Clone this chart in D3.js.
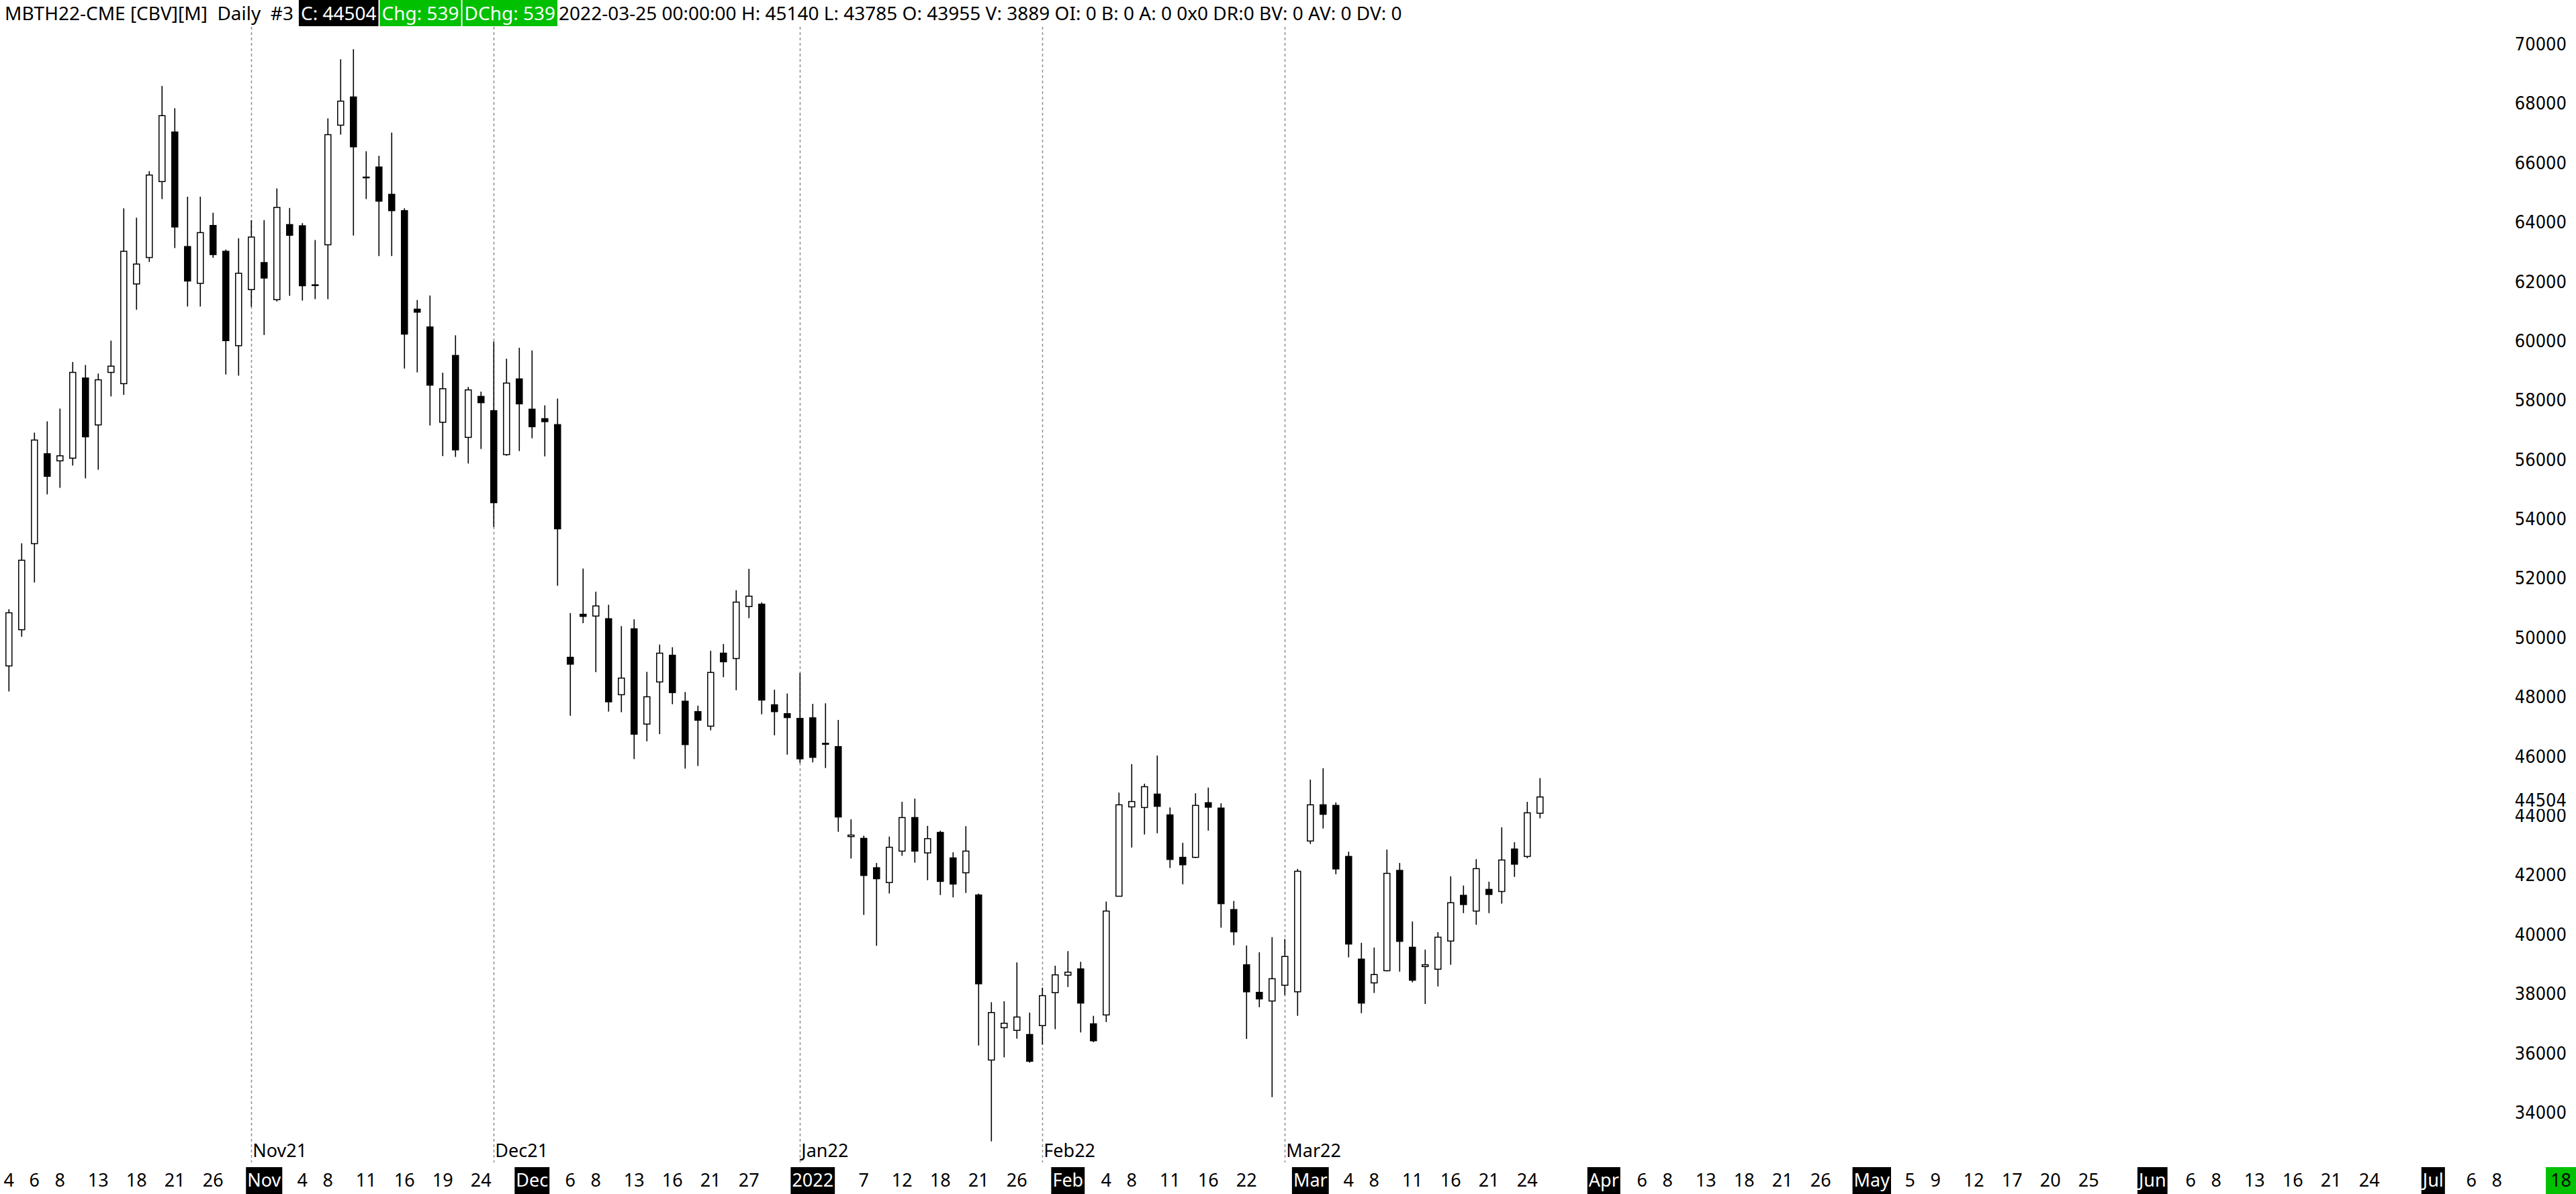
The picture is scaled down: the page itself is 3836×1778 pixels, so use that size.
<!DOCTYPE html>
<html lang="en">
<head>
  <meta charset="utf-8">
  <title>MBTH22-CME Daily</title>
  <script src="https://d3js.org/d3.v7.min.js"></script>
  <style>
    body { margin: 0; background: #fff; }
    svg { display: block; background: #fff; }
    .hdr text { font-family: "Noto Sans", "Open Sans", sans-serif; font-size: 28px; white-space: pre; }
    .xlab text { font-family: "Noto Sans", "Open Sans", sans-serif; font-size: 27px; }
    .ylab text, .lastlab text { font-family: "DejaVu Sans Condensed", "DejaVu Sans", sans-serif; font-stretch: condensed; font-size: 27px; }
  </style>
</head>
<body>
<svg id="chart" width="3836" height="1778"></svg>
<script>
  // ---- data ----
  const dates = [
    "2021-10-04","2021-10-05","2021-10-06","2021-10-07","2021-10-08","2021-10-11","2021-10-12","2021-10-13","2021-10-14","2021-10-15",
    "2021-10-18","2021-10-19","2021-10-20","2021-10-21","2021-10-22","2021-10-25","2021-10-26","2021-10-27","2021-10-28","2021-10-29",
    "2021-11-01","2021-11-02","2021-11-03","2021-11-04","2021-11-05","2021-11-08","2021-11-09","2021-11-10","2021-11-11","2021-11-12",
    "2021-11-15","2021-11-16","2021-11-17","2021-11-18","2021-11-19","2021-11-22","2021-11-23","2021-11-24","2021-11-26","2021-11-29",
    "2021-11-30","2021-12-01","2021-12-02","2021-12-03","2021-12-06","2021-12-07","2021-12-08","2021-12-09","2021-12-10","2021-12-13",
    "2021-12-14","2021-12-15","2021-12-16","2021-12-17","2021-12-20","2021-12-21","2021-12-22","2021-12-23","2021-12-27","2021-12-28",
    "2021-12-29","2021-12-30","2021-12-31","2022-01-03","2022-01-04","2022-01-05","2022-01-06","2022-01-07","2022-01-10","2022-01-11",
    "2022-01-12","2022-01-13","2022-01-14","2022-01-18","2022-01-19","2022-01-20","2022-01-21","2022-01-24","2022-01-25","2022-01-26",
    "2022-01-27","2022-01-28","2022-01-31","2022-02-01","2022-02-02","2022-02-03","2022-02-04","2022-02-07","2022-02-08","2022-02-09",
    "2022-02-10","2022-02-11","2022-02-14","2022-02-15","2022-02-16","2022-02-17","2022-02-18","2022-02-22","2022-02-23","2022-02-24",
    "2022-02-25","2022-02-28","2022-03-01","2022-03-02","2022-03-03","2022-03-04","2022-03-07","2022-03-08","2022-03-09","2022-03-10",
    "2022-03-11","2022-03-14","2022-03-15","2022-03-16","2022-03-17","2022-03-18","2022-03-21","2022-03-22","2022-03-23","2022-03-24",
    "2022-03-25"
  ];

  const open = [
    48920,50140,53040,56070,55830,55920,58620,57040,58810,58430,
    61790,62680,65240,66910,63050,61810,63760,62890,59710,61600,
    62510,61260,63790,63750,61760,63110,67140,68090,65390,65730,
    64810,64260,60940,60340,57130,59380,56620,58000,57520,56040,
    58590,57570,57250,57050,49210,50660,50600,50510,47950,50170,
    46960,48380,49280,47730,47380,46890,49350,49170,50920,51000,
    47610,47310,47150,47170,46310,46200,43170,43110,42120,41620,
    42680,43810,42620,43310,42450,41950,41200,35640,36730,36640,
    36500,36800,37910,38500,38710,36860,37160,41160,44170,44150,
    44600,43900,42470,42470,44310,44130,40710,38850,37920,37630,
    38160,37940,43020,44240,44220,42500,39040,38240,38650,42030,
    39440,38790,38700,39650,41190,40660,41390,41320,42750,42500,
    43955
  ];
  const high = [
    50830,53050,56780,57160,57590,59160,59060,58770,59880,64340,
    64020,65590,68460,67710,64730,64730,64190,62950,63330,63940,
    63940,65010,64350,63840,63270,67370,69360,69700,66260,66110,
    66890,64340,61250,61400,58800,60060,58320,58160,59850,59270,
    59640,59550,57700,57930,50700,52200,51420,50980,50260,50490,
    48720,49640,49550,48040,47580,49430,49660,51470,52190,51060,
    48120,47990,48680,47640,47660,47100,43750,43200,42280,43170,
    44340,44450,43530,43370,42640,43520,41250,37590,37620,38930,
    37240,38080,38820,39310,38950,37130,40980,44650,45610,44950,
    45900,44150,42960,44630,44820,44290,41000,39500,39270,39780,
    39720,42080,45090,45470,44320,42660,39590,39430,42730,42280,
    40310,39360,39950,41830,41520,42410,41650,43480,42980,44340,
    45140
  ];
  const low = [
    48060,49900,51730,54700,54920,55670,55240,55530,58000,58050,
    60920,62530,64650,63000,61030,61030,62670,58740,58700,61020,
    60070,61200,61390,61230,61280,61280,66820,63420,64650,62730,
    62730,58940,58810,57020,55990,55960,55740,56230,53600,56000,
    56160,56590,55980,51620,47240,50360,48710,47380,47360,45780,
    46380,46620,47630,45460,45550,46750,48540,48100,50530,47290,
    46580,45930,45650,45670,45480,43330,42430,40530,39490,41250,
    42520,42290,41700,41200,41120,41270,36130,32900,35730,36360,
    35550,36160,36680,38100,36570,36240,36920,41150,42800,43240,
    43280,42110,41560,42450,43370,40100,39510,36350,37420,34390,
    37830,37130,42920,43440,41900,39100,37220,37900,38630,38620,
    38260,37530,38120,38850,40590,40200,40590,40910,41810,42440,
    43785
  ];
  const close = [
    50710,52480,56530,55310,56000,58810,56640,58560,59020,62890,
    62460,65460,67460,63710,61890,63520,62780,59880,62150,63370,
    61990,64370,63430,61730,61740,66820,67950,66410,65370,64580,
    64260,60100,60840,58380,58260,56200,58220,57790,54420,58450,
    57750,56980,57150,53540,48980,50590,50940,47710,48510,46620,
    47880,49350,48020,46270,47090,48700,49060,51070,51270,47770,
    47380,47180,45790,45840,46280,43830,43220,41860,41750,42810,
    43810,42680,43100,41660,41570,42680,38210,37240,36880,37090,
    35600,37810,38510,38600,37560,36290,40660,44240,44350,44850,
    44190,42400,42220,44220,44160,40910,39960,37940,37700,38380,
    39130,42000,44240,43920,42080,39550,37560,38520,41930,39640,
    38330,38850,39780,40940,40880,42090,41220,42380,42240,43970,
    44504
  ];

  // price scale labels and last price
  const yTicks = d3.range(34000, 70001, 2000);
  const lastPrice = 44504;

  // axis runs on into the future, weekdays only, up to this day
  const axisEnd = "2022-07-18";

  // contract roll lines (expiry of the previous contract)
  const rollDates = ["2021-10-29", "2021-11-26", "2021-12-31", "2022-01-28", "2022-02-25"];
  const rollLabels = ["Nov21", "Dec21", "Jan22", "Feb22", "Mar22"];

  // bottom time labels
  const xTickDates = [
    "2021-10-04","2021-10-06","2021-10-08","2021-10-13","2021-10-18","2021-10-21","2021-10-26",
    "2021-11-01","2021-11-04","2021-11-08","2021-11-11","2021-11-16","2021-11-19","2021-11-24",
    "2021-12-01","2021-12-06","2021-12-08","2021-12-13","2021-12-16","2021-12-21","2021-12-27",
    "2022-01-03","2022-01-07","2022-01-12","2022-01-18","2022-01-21","2022-01-26",
    "2022-02-01","2022-02-04","2022-02-08","2022-02-11","2022-02-16","2022-02-22",
    "2022-03-01","2022-03-04","2022-03-08","2022-03-11","2022-03-16","2022-03-21","2022-03-24",
    "2022-04-01","2022-04-06","2022-04-08","2022-04-13","2022-04-18","2022-04-21","2022-04-26",
    "2022-05-02","2022-05-05","2022-05-09","2022-05-12","2022-05-17","2022-05-20","2022-05-25",
    "2022-06-01","2022-06-06","2022-06-08","2022-06-13","2022-06-16","2022-06-21","2022-06-24",
    "2022-07-01","2022-07-06","2022-07-08"
  ];
  const xTickText = [
    "4","6","8","13","18","21","26",
    "Nov","4","8","11","16","19","24",
    "Dec","6","8","13","16","21","27",
    "2022","7","12","18","21","26",
    "Feb","4","8","11","16","22",
    "Mar","4","8","11","16","21","24",
    "Apr","6","8","13","18","21","26",
    "May","5","9","12","17","20","25",
    "Jun","6","8","13","16","21","24",
    "Jul","6","8"
  ];
  const cursorDate = "2022-07-18";
  const cursorText = "18";

  const headerItems = [
    "MBTH22-CME [CBV][M]  Daily  #3",
    "C: 44504",
    "Chg: 539",
    "DChg: 539",
    "2022-03-25 00:00:00 H: 45140 L: 43785 O: 43955 V: 3889 OI: 0 B: 0 A: 0 0x0 DR:0 BV: 0 AV: 0 DV: 0"
  ];

  // ---- layout ----
  const W = 3836, H = 1778;
  const green = "#00c000";
  const svg = d3.select("#chart");

  const parse = d3.timeParse("%Y-%m-%d");
  const fmt = d3.timeFormat("%Y-%m-%d");

  let futureDays = d3.timeDay
      .range(d3.timeDay.offset(parse(dates[dates.length - 1]), 1), d3.timeDay.offset(parse(axisEnd), 1))
      .filter(d => d.getDay() !== 0 && d.getDay() !== 6)
      .map(fmt);
  let sessions = dates.concat(futureDays);

  let step = 19.0;
  let x = d3.scalePoint()
      .domain(sessions)
      .range([13.3, 13.3 + step * (sessions.length - 1)]);

  let y = d3.scaleLinear()
      .domain([34000, 70000])
      .range([1651, 60]);

  // contract roll lines
  let rolls = svg.append("g");
  rolls.selectAll("line")
    .data(rollDates)
    .join("line")
    .attr("x1", d => Math.round(x(d)) + 0.5)
    .attr("x2", d => Math.round(x(d)) + 0.5)
    .attr("y1", 40)
    .attr("y2", 1731)
    .style("stroke", "#8c8c8c")
    .style("stroke-width", "1.5px")
    .style("stroke-dasharray", "4,4");

  rolls.selectAll("text")
    .data(rollDates)
    .join("text")
    .attr("x", d => x(d) + 2)
    .attr("y", 1714)
    .attr("dy", "0.35em")
    .style("font-family", "'Noto Sans', 'Open Sans', sans-serif")
    .style("font-size", "27px")
    .style("fill", "#000")
    .text((d, i) => rollLabels[i]);

  // candles
  let candles = dates.map((d, i) => ({ date: d, o: open[i], h: high[i], l: low[i], c: close[i] }));
  let bodyW = 9;

  let cg = svg.append("g");
  cg.selectAll("line")
    .data(candles)
    .join("line")
    .attr("x1", d => x(d.date))
    .attr("x2", d => x(d.date))
    .attr("y1", d => y(d.h))
    .attr("y2", d => y(d.l))
    .style("stroke", "#000")
    .style("stroke-width", "1.6px");

  cg.selectAll("rect")
    .data(candles)
    .join("rect")
    .attr("x", d => x(d.date) - bodyW / 2)
    .attr("y", d => y(Math.max(d.o, d.c)))
    .attr("width", bodyW)
    .attr("height", d => Math.max(1, Math.abs(y(d.o) - y(d.c))))
    .style("fill", d => d.c >= d.o ? "#fff" : "#000")
    .style("stroke", "#000")
    .style("stroke-width", "1.5px");

  // price scale on the right
  let yAxis = d3.axisLeft(y)
      .tickValues(yTicks)
      .tickSize(0)
      .tickPadding(0)
      .tickFormat(d3.format("d"));

  let yg = svg.append("g")
      .attr("class", "ylab")
      .attr("transform", "translate(3822,0)")
      .call(yAxis);
  yg.select(".domain").remove();
  yg.selectAll("text")
    .attr("y", 5)
    .attr("dy", "0.35em")
    .style("fill", "#000");

  // last price tag (sits over the 44000 label, as in the source)
  let lastG = svg.append("g").attr("class", "lastlab");
  lastG.append("rect")
    .attr("x", 3738)
    .attr("y", y(lastPrice) - 10)
    .attr("width", 98)
    .attr("height", 28)
    .style("fill", "#fff");
  lastG.append("text")
    .attr("x", 3822)
    .attr("y", y(lastPrice) + 5)
    .attr("dy", "0.35em")
    .attr("text-anchor", "end")
    .style("fill", "#000")
    .text(lastPrice);

  // bottom time labels
  let xg = svg.append("g").attr("class", "xlab");
  let ticks = xTickDates.map((d, i) => ({ date: d, text: xTickText[i], boxed: isNaN(+xTickText[i]) || xTickText[i] === "2022" }));

  let tg = xg.selectAll("g")
    .data(ticks)
    .join("g")
    .attr("transform", d => `translate(${x(d.date)},0)`);

  tg.append("text")
    .attr("text-anchor", "middle")
    .attr("y", 1758)
    .attr("dy", "0.35em")
    .style("fill", d => d.boxed ? "#fff" : "#000")
    .text(d => d.text);

  tg.filter(d => d.boxed).each(function () {
    let t = d3.select(this).select("text");
    let w = t.node().getComputedTextLength() + 4;
    d3.select(this).insert("rect", "text")
      .attr("x", -w / 2)
      .attr("y", 1738)
      .attr("width", w)
      .attr("height", 40)
      .style("fill", "#000");
  });

  // cursor date tag, held inside the right edge
  let cur = xg.append("g");
  let curText = cur.append("text")
      .attr("text-anchor", "middle")
      .attr("y", 1758)
      .attr("dy", "0.35em")
      .style("fill", "#000")
      .text(cursorText);
  let cw = curText.node().getComputedTextLength() + 14;
  let cx = Math.min(x(cursorDate), W - cw / 2);
  curText.attr("x", cx);
  cur.insert("rect", "text")
    .attr("x", cx - cw / 2)
    .attr("y", 1738)
    .attr("width", cw)
    .attr("height", 40)
    .style("fill", green);

  // header line
  let hg = svg.append("g").attr("class", "hdr");
  hg.append("rect")
    .attr("x", 0).attr("y", 0)
    .attr("width", 2200).attr("height", 39)
    .style("fill", "#fff");

  let hfill = [null, "#000", green, green, null];
  let hx = 7;
  headerItems.forEach((s, i) => {
    let pad = hfill[i] ? 3 : 0;
    let t = hg.append("text")
        .attr("xml:space", "preserve")
        .attr("x", hx + pad)
        .attr("y", 20)
        .attr("dy", "0.35em")
        .style("fill", hfill[i] ? "#fff" : "#000")
        .text(s);
    let w = t.node().getComputedTextLength();
    if (hfill[i]) {
      hg.insert("rect", "text:last-child")
        .attr("x", hx)
        .attr("y", 0)
        .attr("width", w + 2 * pad)
        .attr("height", 39)
        .style("fill", hfill[i]);
    }
    hx += w + 2 * pad + (hfill[i] ? 2 : 8);
  });
</script>
</body>
</html>
